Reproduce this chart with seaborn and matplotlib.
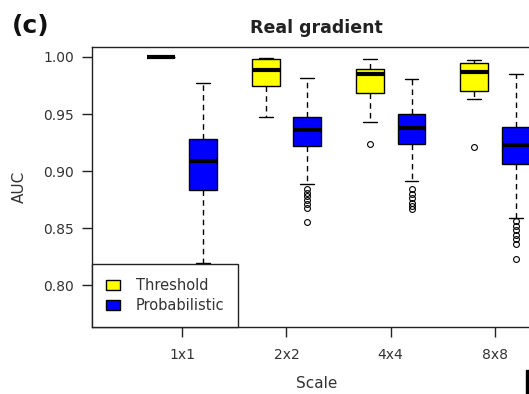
import matplotlib
matplotlib.use("Agg")
import matplotlib.pyplot as plt
from matplotlib.patches import Patch, Rectangle
import seaborn as sns
import pandas as pd

# ---- data ----
scales = ["1x1", "2x2", "4x4", "8x8"]
methods = ["Threshold", "Probabilistic"]

thr_whislo = [1.000, 0.947, 0.943, 0.963]
thr_q1 = [1.000, 0.975, 0.968, 0.970]
thr_med = [1.000, 0.989, 0.985, 0.987]
thr_q3 = [1.000, 0.998, 0.9895, 0.9945]
thr_whishi = [1.000, 0.999, 0.998, 0.997]
thr_outliers = [[], [], [0.924], [0.921]]

prob_whislo = [0.819, 0.889, 0.891, 0.859]
prob_q1 = [0.883, 0.922, 0.924, 0.906]
prob_med = [0.909, 0.936, 0.9375, 0.923]
prob_q3 = [0.928, 0.947, 0.9497, 0.939]
prob_whishi = [0.977, 0.9816, 0.981, 0.985]
prob_outliers = [[],
                 [0.884, 0.881, 0.878, 0.875, 0.871, 0.868, 0.855],
                 [0.884, 0.880, 0.876, 0.872, 0.869, 0.867],
                 [0.856, 0.852, 0.848, 0.844, 0.840, 0.836, 0.823]]

colors = {"Threshold": "#FFFF00", "Probabilistic": "#0000FF"}


def build_sample(lo, q1, med, q3, hi, outs):
    """Sample whose linear quartiles / whiskers / fliers equal the read values."""
    k = len(outs) + 2
    low = sorted(outs) + [lo] + [q1] * (k - len(outs) - 1)
    return low + [q1] + [med] * k + [q3] * k + [q3] * (k - 1) + [hi]


rows = []
for i, s in enumerate(scales):
    for v in build_sample(thr_whislo[i], thr_q1[i], thr_med[i], thr_q3[i],
                          thr_whishi[i], thr_outliers[i]):
        rows.append((s, "Threshold", v))
    for v in build_sample(prob_whislo[i], prob_q1[i], prob_med[i], prob_q3[i],
                          prob_whishi[i], prob_outliers[i]):
        rows.append((s, "Probabilistic", v))
df = pd.DataFrame(rows, columns=["Scale", "Method", "AUC"])

# ---- style ----
sns.set_style("white")
plt.rcParams["font.family"] = ["DejaVu Sans"]
txt = "#333333"

fig = plt.figure(figsize=(5.29, 3.94), dpi=100)
ax = fig.add_axes([92 / 529, 1 - 327 / 394, 1 - 92 / 529, (327 - 47) / 394])

sns.boxplot(data=df, x="Scale", y="AUC", hue="Method", order=scales,
            hue_order=methods, palette=colors, saturation=1, width=0.8,
            gap=0.33, linecolor="black", linewidth=1.0, legend=False,
            whiskerprops={"linestyle": (0, (4, 3)), "linewidth": 1.0},
            capprops={"linewidth": 1.0},
            medianprops={"linewidth": 3.0, "color": "black"},
            flierprops={"marker": "o", "markersize": 4.2,
                        "markerfacecolor": "none",
                        "markeredgecolor": "black",
                        "markeredgewidth": 0.8},
            ax=ax)

ax.set_xlim(-0.865, 3.327)
ax.set_ylim(0.7632, 1.00877)
ax.set_yticks([0.80, 0.85, 0.90, 0.95, 1.00])
ax.set_yticklabels(["0.80", "0.85", "0.90", "0.95", "1.00"])

for side in ["left", "top", "bottom"]:
    ax.spines[side].set_visible(True)
    ax.spines[side].set_color("#222222")
    ax.spines[side].set_linewidth(1.0)
ax.spines["right"].set_visible(False)

ax.tick_params(axis="both", direction="out", length=7, width=1,
               color="#222222", labelsize=10, labelcolor=txt,
               left=True, bottom=True)
ax.tick_params(axis="x", pad=8)
ax.tick_params(axis="y", pad=6)

ax.set_xlabel("Scale", fontsize=11, color=txt)
ax.xaxis.set_label_coords((317 - 92) / 437, -0.175)
ax.set_ylabel("AUC", fontsize=11, color=txt)
ax.yaxis.set_label_coords(-0.150, 0.5)
ax.set_title("Real gradient", fontsize=12.5, fontweight="bold",
             color="#222222", x=(316 - 92) / 437, pad=10)

fig.text(12 / 529, 1 - 26 / 394, "(c)", fontsize=18, fontweight="bold",
         color="#111111", va="center", ha="left")

handles = [Patch(facecolor=colors[m], edgecolor="black", linewidth=1.0,
                 label=m) for m in methods]
leg = ax.legend(handles=handles, loc="lower left", bbox_to_anchor=(0, 0),
                borderaxespad=0, fancybox=False, framealpha=1,
                edgecolor="#222222", fontsize=10.5, handlelength=0.95,
                handleheight=0.75, handletextpad=1.1, labelspacing=0.35,
                borderpad=0.95, labelcolor=txt)
leg.get_frame().set_linewidth(1.0)
leg.set_zorder(5)

fig.add_artist(Rectangle((526 / 529, 0), 3 / 529, 24 / 394,
                         transform=fig.transFigure, color="black"))

fig.savefig("out.png", dpi=100)
